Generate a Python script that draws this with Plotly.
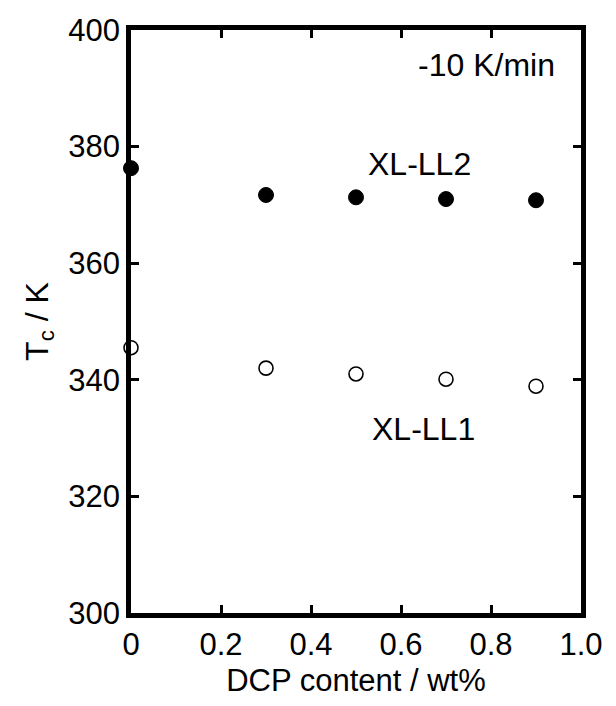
import plotly.graph_objects as go

# Data
dcp_content = [0.0, 0.3, 0.5, 0.7, 0.9]          # wt%
tc_xl_ll2 = [376.3, 371.7, 371.3, 371.0, 370.8]   # K (filled)
tc_xl_ll1 = [345.5, 342.0, 341.0, 340.1, 338.9]   # K (open)

x_ticks = [0, 0.2, 0.4, 0.6, 0.8, 1.0]
x_tick_labels = ["0", "0.2", "0.4", "0.6", "0.8", "1.0"]
y_ticks = [300, 320, 340, 360, 380, 400]
y_tick_labels = ["300", "320", "340", "360", "380", "400"]

FONT = "Liberation Sans, Arial, Helvetica, sans-serif"

fig = go.Figure()
fig.add_trace(go.Scatter(
    x=dcp_content, y=tc_xl_ll2, mode="markers", name="XL-LL2",
    marker=dict(symbol="circle", size=15, color="black",
                line=dict(color="black", width=1)),
    cliponaxis=False, showlegend=False,
))
fig.add_trace(go.Scatter(
    x=dcp_content, y=tc_xl_ll1, mode="markers", name="XL-LL1",
    marker=dict(symbol="circle", size=14, color="white",
                line=dict(color="black", width=1.6)),
    cliponaxis=False, showlegend=False,
))

axis_common = dict(
    showline=True, linecolor="black", linewidth=4.5, mirror="ticks",
    ticks="inside", ticklen=8, tickwidth=3, tickcolor="black",
    showgrid=False, zeroline=False,
    tickfont=dict(family=FONT, size=31, color="black"),
)

fig.update_xaxes(
    range=[0, 1.0], tickvals=x_ticks, ticktext=x_tick_labels,
    title=dict(text="DCP content / wt%", font=dict(family=FONT, size=31, color="black"),
               standoff=10),
    **axis_common,
)
fig.update_yaxes(
    range=[300, 400], tickvals=y_ticks, ticktext=y_tick_labels,
    title=dict(text="T<sub>c</sub> / K", font=dict(family=FONT, size=32, color="black"),
               standoff=12),
    **axis_common,
)

ann_font = dict(family=FONT, size=32, color="black")
fig.add_annotation(x=0.79, y=394.0, text="-10 K/min", showarrow=False,
                   xanchor="center", yanchor="middle", font=ann_font)
fig.add_annotation(x=0.64, y=377.0, text="XL-LL2", showarrow=False,
                   xanchor="center", yanchor="middle", font=ann_font)
fig.add_annotation(x=0.649, y=331.5, text="XL-LL1", showarrow=False,
                   xanchor="center", yanchor="middle", font=ann_font)

fig.update_layout(
    width=616, height=706,
    margin=dict(l=131, r=35, t=30, b=93, pad=0),
    paper_bgcolor="white", plot_bgcolor="white",
    font=dict(family=FONT, color="black"),
)

fig.write_html(
    "out.html",
    config={"displayModeBar": False},
    post_script="document.body.style.margin='0';document.body.style.overflow='hidden';",
)
